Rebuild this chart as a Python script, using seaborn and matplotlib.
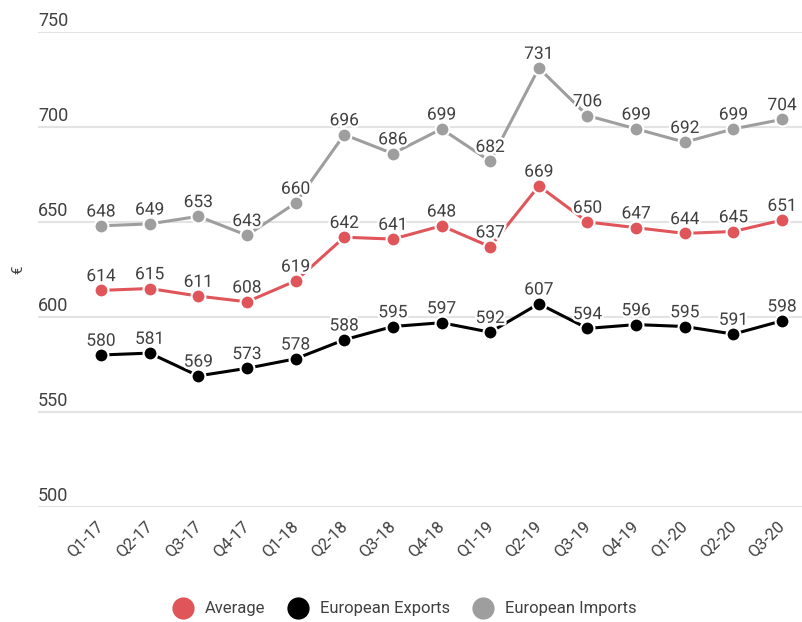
import matplotlib
matplotlib.use("Agg")
import matplotlib.pyplot as plt
import matplotlib.patheffects as pe
from matplotlib.lines import Line2D
import seaborn as sns
import pandas as pd

quarters = ["Q1-17", "Q2-17", "Q3-17", "Q4-17", "Q1-18", "Q2-18", "Q3-18", "Q4-18",
            "Q1-19", "Q2-19", "Q3-19", "Q4-19", "Q1-20", "Q2-20", "Q3-20"]
average = [614, 615, 611, 608, 619, 642, 641, 648, 637, 669, 650, 647, 644, 645, 651]
european_exports = [580, 581, 569, 573, 578, 588, 595, 597, 592, 607, 594, 596, 595, 591, 598]
european_imports = [648, 649, 653, 643, 660, 696, 686, 699, 682, 731, 706, 699, 692, 699, 704]
series_names = ["Average", "European Exports", "European Imports"]
y_ticks = [500, 550, 600, 650, 700, 750]

colors = {"Average": "#E0555A", "European Exports": "#000000", "European Imports": "#9E9E9E"}
text_color = "#404040"

sns.set_theme(style="white")
plt.rcParams["font.family"] = ["Roboto", "DejaVu Sans"]

rows = []
for name, vals in zip(series_names, [average, european_exports, european_imports]):
    for i, (q, v) in enumerate(zip(quarters, vals)):
        rows.append({"idx": i, "quarter": q, "value": v, "series": name})
df = pd.DataFrame(rows)

fig = plt.figure(figsize=(8.03, 6.22), dpi=100)
ax = fig.add_axes([38 / 803, 1 - 507 / 622, (803 - 38) / 803, (507 - 32) / 622])

sns.lineplot(data=df, x="idx", y="value", hue="series", palette=colors,
             hue_order=series_names, marker="o", markersize=10,
             markeredgecolor="white", markeredgewidth=1.5, linewidth=2.2,
             legend=False, ax=ax, zorder=3)

# value labels above each point
outline = [pe.withStroke(linewidth=3.5, foreground="white")]
for _, r in df.iterrows():
    ax.annotate(f"{r['value']}", (r["idx"], r["value"]), xytext=(0, 4.5),
                textcoords="offset points", ha="center", va="bottom",
                fontsize=12.5, color=text_color, path_effects=outline, zorder=5)

ax.set_xlim(-1.295, 14.43)
ax.set_ylim(500, 750)

# horizontal grid lines
ax.set_yticks(y_ticks)
ax.yaxis.grid(True, color="#E3E3E3", linewidth=1.5)
ax.xaxis.grid(False)
ax.set_yticklabels([])
ax.tick_params(axis="y", length=0)
for t in y_ticks:
    ax.text(0.0, t + 1.2, str(t), transform=ax.get_yaxis_transform(),
            ha="left", va="bottom", fontsize=13, color=text_color)

ax.set_xticks(range(len(quarters)))
ax.set_xticklabels(quarters, rotation=45, ha="right", va="center",
                   rotation_mode="anchor", fontsize=12, color=text_color)
ax.tick_params(axis="x", length=0, pad=12)

for s in ax.spines.values():
    s.set_visible(False)

ax.set_xlabel("")
ax.set_ylabel("")
fig.text(18 / 803, 1 - 270 / 622, "€", rotation=90, ha="center", va="center",
         fontsize=11, color=text_color)

handles = [Line2D([0], [0], marker="o", linestyle="none", markersize=17,
                  markerfacecolor=colors[n], markeredgecolor="white", markeredgewidth=1)
           for n in series_names]
fig.legend(handles, series_names, loc="center", bbox_to_anchor=(0.5, 1 - 609 / 622),
           ncol=3, frameon=False, fontsize=12, handletextpad=0.3, columnspacing=1.0,
           labelcolor=text_color)

fig.savefig("out.png", dpi=100)
